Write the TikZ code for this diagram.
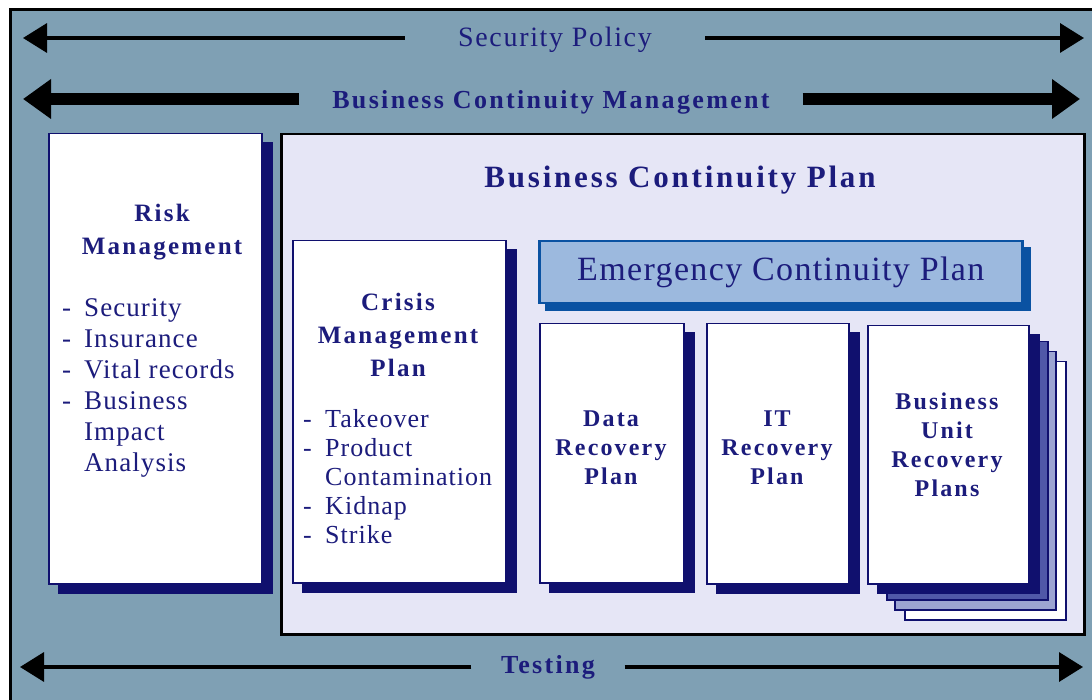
\documentclass[tikz,border=0pt]{standalone}
\usepackage{fontspec}
\setmainfont{Liberation Serif}[LetterSpace=4]
\newfontfamily\headfont{Liberation Serif}[LetterSpace=9]
\usetikzlibrary{arrows.meta, shadows}
\definecolor{frame}{HTML}{7FA0B4}
\definecolor{lavender}{HTML}{E6E6F6}
\definecolor{navy}{HTML}{10106E}
\definecolor{ink}{HTML}{1C1C7C}
\definecolor{ecpfill}{HTML}{9CB9DE}
\definecolor{ecpline}{HTML}{0A52A2}
\definecolor{pagemid}{HTML}{5058A8}
\definecolor{pagelight}{HTML}{9CA4D2}
% list entries with a hanging dash
\newcommand{\dashitem}[1]{\makebox[22pt][l]{-}#1}
\newcommand{\contitem}[1]{\hspace*{22pt}#1}
\tikzset{
  card/.style={rectangle, draw=navy, fill=white, line width=1.5pt, anchor=north west, inner sep=0pt},
  shadowed/.style={general shadow={shadow xshift=10pt, shadow yshift=-9pt, fill=navy, draw=navy}},
  stacked/.style={
    general shadow={shadow xshift=37pt, shadow yshift=-36pt, fill=white, draw=navy},
    general shadow={shadow xshift=27pt, shadow yshift=-26pt, fill=pagelight, draw=navy},
    general shadow={shadow xshift=19pt, shadow yshift=-16pt, fill=pagemid, draw=navy},
    general shadow={shadow xshift=10pt, shadow yshift=-9pt, fill=navy, draw=navy}},
  title/.style={align=center, text=ink, inner sep=0pt, font=\headfont\bfseries\fontsize{25}{33}\selectfont},
  boxtitle/.style={title, font=\headfont\bfseries\fontsize{24}{29}\selectfont},
  itemlist/.style={align=left, text=ink, inner sep=0pt, anchor=west, font=\fontsize{27}{31}\selectfont},
  gaplabel/.style={fill=frame, inner sep=0pt, minimum height=30pt, text=ink},
  thinarrow/.style={line width=3.5pt, -{Triangle[length=24pt, width=29pt]}},
  thickarrow/.style={line width=12pt, -{Triangle[length=28pt, width=38pt]}},
}

\begin{document}
\begin{tikzpicture}[x=1pt, y=-1pt]
\useasboundingbox (0,0) rectangle (1092,700);
\fill[white] (0,0) rectangle (1092,700);
\clip (0,0) rectangle (1092,700);
\draw[line width=3pt, fill=frame] (10,10) rectangle (1110,720);

% policy, management and testing bands
\node[gaplabel, minimum width=300pt, font=\addfontfeatures{LetterSpace=6}\fontsize{28}{32}\selectfont] (sp) at (555,40) {Security Policy};
\coordinate (spL) at (23,38);
\coordinate (spR) at (1084,38);
\draw[thinarrow] (sp.west |- spL) -- (spL);
\draw[thinarrow] (sp.east |- spR) -- (spR);

\node[gaplabel, minimum width=503pt, font=\headfont\bfseries\fontsize{26}{30}\selectfont] (bcm) at (551,102) {Business Continuity Management};
\coordinate (bcmL) at (23,99);
\coordinate (bcmR) at (1080,99);
\draw[thickarrow] (bcm.west |- bcmL) -- (bcmL);
\draw[thickarrow] (bcm.east |- bcmR) -- (bcmR);

\node[gaplabel, minimum width=153pt, font=\headfont\bfseries\fontsize{26}{30}\selectfont] (test) at (548,667) {Testing};
\coordinate (testL) at (20,667);
\coordinate (testR) at (1083,667);
\draw[thinarrow] (test) -- (testL);
\draw[thinarrow] (test) -- (testR);

% risk management
\node[card, shadowed, minimum width=213pt, minimum height=450pt] (risk) at (48,133) {};
\node[title] (riskT) at (162,232) {Risk\\Management};
\node[itemlist] (riskL) at (62,388) {\dashitem{Security}\\\dashitem{Insurance}\\\dashitem{Vital records}\\\dashitem{Business}\\\contitem{Impact}\\\contitem{Analysis}};

% continuity plan
\node[draw=black, line width=2.5pt, fill=lavender, anchor=north west, inner sep=0pt,
  minimum width=803pt, minimum height=500pt] (bcp) at (280,133) {};
\node[title, font=\headfont\bfseries\fontsize{31}{35}\selectfont] (bcpT) at (680,180) {Business Continuity Plan};

\node[card, shadowed, minimum width=213pt, minimum height=342pt] (crisis) at (292,240) {};
\node[title] (crisisT) at (398,335) {Crisis\\Management\\Plan};
\node[itemlist, font=\fontsize{26}{29}\selectfont] (crisisL) at (303,477) {\dashitem{Takeover}\\\dashitem{Product}\\\contitem{Contamination}\\\dashitem{Kidnap}\\\dashitem{Strike}};

\node[draw=ecpline, fill=ecpfill, line width=2.5pt, anchor=north west, inner sep=0pt,
  general shadow={shadow xshift=7pt, shadow yshift=-7pt, fill=ecpline, draw=ecpline},
  minimum width=483pt, minimum height=62pt, text=ink, font=\fontsize{34}{38}\selectfont] (ecp) at (538,240) {\raisebox{-3pt}{Emergency Continuity Plan}};

\node[card, shadowed, minimum width=144pt, minimum height=259pt] (data) at (539,323) {};
\node[boxtitle] (dataT) at (611,448) {Data\\Recovery\\Plan};

\node[card, shadowed, minimum width=142pt, minimum height=260pt] (it) at (706,323) {};
\node[boxtitle] (itT) at (777,448) {IT\\Recovery\\Plan};

\node[card, stacked, minimum width=161pt, minimum height=258pt] (unit) at (867,325) {};
\node[boxtitle] (unitT) at (947,445) {Business\\Unit\\Recovery\\Plans};
\end{tikzpicture}
\end{document}
